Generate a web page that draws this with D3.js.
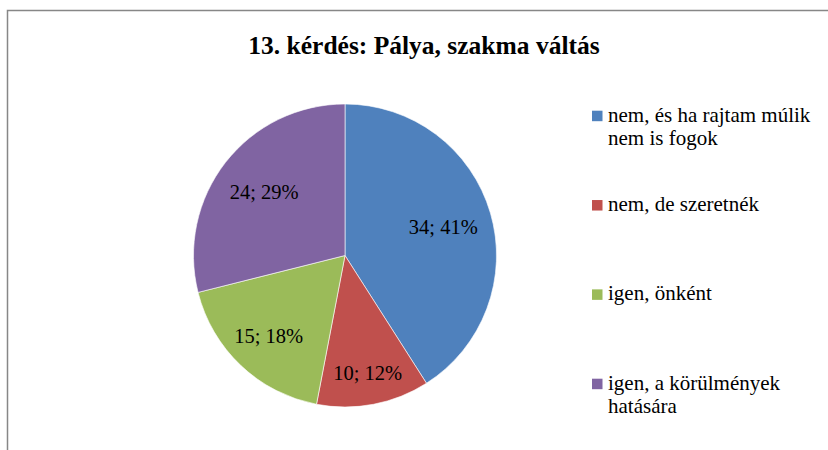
<!DOCTYPE html>
<html>
<head>
<meta charset="utf-8">
<script src="https://cdn.jsdelivr.net/npm/d3@7"></script>
</head>
<body style="margin:0;background:#fff">
<svg id="chart" width="828" height="450"></svg>
<script>
var title = "13. kérdés: Pálya, szakma váltás";
var categories = [
	["nem, és ha rajtam múlik", "nem is fogok"],
	["nem, de szeretnék"],
	["igen, önként"],
	["igen, a körülmények", "hatására"]
];
var values = [34, 10, 15, 24];
var percents = ["41%", "12%", "18%", "29%"];
var colors = ["#4F81BD", "#C0504D", "#9BBB59", "#8064A2"];

var svg = d3.select("#chart")
	.style("display", "block")
	.style("font-family", "Liberation Serif");

// frame (only top + left visible in the crop)
svg.append("rect")
	.attr("x", 7.5).attr("y", 10.5)
	.attr("width", 900).attr("height", 600)
	.attr("fill", "none")
	.attr("stroke", "#878787")
	.attr("stroke-width", 1.5);

svg.append("text")
	.attr("x", 424).attr("y", 54)
	.attr("text-anchor", "middle")
	.style("font-family", "Liberation Serif")
	.style("font-size", "25.5px")
	.style("font-weight", "bold")
	.text(title);

var cx = 345, cy = 255.5, R = 151.5;
var g = svg.append("g").attr("transform", "translate(" + cx + "," + cy + ")");

var pie = d3.pie().sort(null).value(function(d){ return d; });
var arcs = pie(values);
var arc = d3.arc().innerRadius(0).outerRadius(R);

g.selectAll("path")
	.data(arcs)
	.enter().append("path")
	.attr("d", arc)
	.attr("fill", function(d, i){ return colors[i]; })
	.attr("stroke", "#fff")
	.attr("stroke-width", 0.6);

var total = d3.sum(values);
g.selectAll("text.lbl")
	.data(arcs)
	.enter().append("text")
	.attr("class", "lbl")
	.attr("transform", function(d){
		// smaller slices push the label outward (roughly like excel best fit)
		var r = R * Math.max(0.676, 0.915 - d.value / total);
		var c = d3.arc().innerRadius(r).outerRadius(r).centroid(d);
		return "translate(" + c[0] + "," + c[1] + ")";
	})
	.attr("text-anchor", "middle")
	.attr("dy", "0.33em")
	.style("font-family", "Liberation Serif")
	.style("font-size", "20.5px")
	.text(function(d, i){ return d.value + "; " + percents[i]; });

// legend
var legY = d3.scalePoint().domain(d3.range(categories.length)).range([110.7, 378.7]);
var leg = svg.selectAll("g.leg")
	.data(categories)
	.enter().append("g")
	.attr("class", "leg")
	.attr("transform", function(d, i){ return "translate(592," + legY(i) + ")"; });

leg.append("rect")
	.attr("width", 10.5).attr("height", 10.5)
	.attr("fill", function(d, i){ return colors[i]; });

leg.append("text")
	.attr("x", 16)
	.style("font-family", "Liberation Serif")
	.style("font-size", "21px")
	.selectAll("tspan")
	.data(function(d){ return d; })
	.enter().append("tspan")
	.attr("x", 16)
	.attr("y", function(d, j){ return 11 + j * 23.5; })
	.text(function(d){ return d; });
</script>
</body>
</html>
